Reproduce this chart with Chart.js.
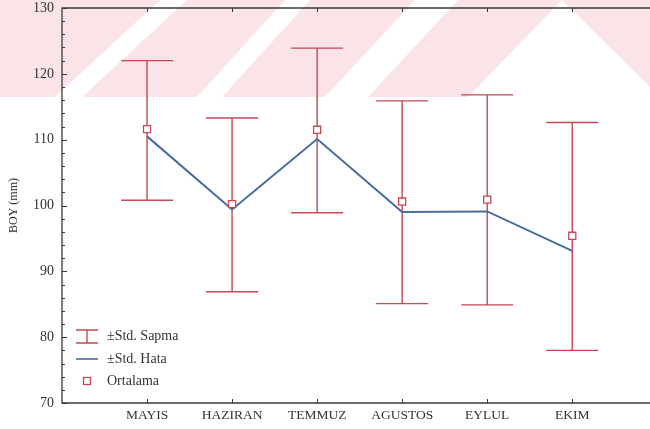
<!DOCTYPE html>
<html>
<head>
<meta charset="utf-8">
<script src="https://cdn.jsdelivr.net/npm/chart.js@4/dist/chart.umd.min.js"></script>
<style>
  html, body { margin: 0; padding: 0; background: #fff; overflow: hidden; }
  #wrap { width: 650px; height: 429px; position: relative; }
</style>
</head>
<body>
<div id="wrap"><canvas id="c" width="650" height="429"></canvas></div>
<script>
// Monthly BOY (mm): mean, std. error line and ±std. deviation whiskers
const months = ['MAYIS', 'HAZIRAN', 'TEMMUZ', 'AGUSTOS', 'EYLUL', 'EKIM'];
const meanValues = [111.6, 100.2, 111.5, 100.6, 100.9, 95.4];
const stdErrLine = [110.5, 99.4, 110.1, 99.0, 99.1, 93.1];
const sdUpper = [122.0, 113.3, 123.9, 115.9, 116.8, 112.6];
const sdLower = [100.8, 86.9, 98.9, 85.1, 84.9, 78.0];
const yTickValues = [70, 80, 90, 100, 110, 120, 130];

const SERIF = '"Liberation Serif", "DejaVu Serif", serif';
const RED = 'rgb(198, 72, 84)';
const BLUE = 'rgb(72, 108, 160)';
const AXIS = '#3a3a3a';
const TEXT = '#333333';

const monthPos = months.map((m, i) => i + 1);

// Background band with diagonal gaps
const backgroundBand = {
  id: 'backgroundBand',
  beforeDraw(chart) {
    const ctx = chart.ctx;
    ctx.save();
    ctx.fillStyle = 'rgb(251, 228, 231)';
    ctx.fillRect(0, 0, 650, 97);
    ctx.fillStyle = '#ffffff';
    const gaps = [
      [[55, 97], [82, 97], [187, 0], [160, 0]],
      [[197, 97], [222, 97], [310, 0], [285, 0]],
      [[325, 97], [368, 97], [458, 0], [415, 0]],
      [[468, 97], [562, 0], [650, 87], [650, 97]]
    ];
    gaps.forEach(poly => {
      ctx.beginPath();
      poly.forEach((p, k) => k ? ctx.lineTo(p[0], p[1]) : ctx.moveTo(p[0], p[1]));
      ctx.closePath();
      ctx.fill();
    });
    ctx.restore();
  }
};

// Whiskers for ±std. deviation
const sdWhiskers = {
  id: 'sdWhiskers',
  beforeDatasetsDraw(chart) {
    const ctx = chart.ctx;
    const xs = chart.scales.x, ys = chart.scales.y;
    const cap = 26;
    ctx.save();
    ctx.strokeStyle = RED;
    ctx.lineWidth = 1.4;
    monthPos.forEach((p, i) => {
      const x = xs.getPixelForValue(p);
      const yt = ys.getPixelForValue(sdUpper[i]);
      const yb = ys.getPixelForValue(sdLower[i]);
      ctx.beginPath();
      ctx.moveTo(x, yt); ctx.lineTo(x, yb);
      ctx.moveTo(x - cap, yt); ctx.lineTo(x + cap, yt);
      ctx.moveTo(x - cap, yb); ctx.lineTo(x + cap, yb);
      ctx.stroke();
    });
    ctx.restore();
  }
};

// Axis lines, inward ticks and the legend box
const frameAndLegend = {
  id: 'frameAndLegend',
  afterDraw(chart) {
    const ctx = chart.ctx;
    const a = chart.chartArea;
    const xs = chart.scales.x, ys = chart.scales.y;
    ctx.save();
    ctx.strokeStyle = AXIS;
    ctx.lineWidth = 1.3;
    ctx.beginPath();
    ctx.moveTo(650, a.top); ctx.lineTo(a.left, a.top);
    ctx.lineTo(a.left, a.bottom); ctx.lineTo(650, a.bottom);
    ctx.stroke();
    ctx.lineWidth = 1;
    ctx.beginPath();
    for (let v = ys.min; v <= ys.max; v += 2) {
      const y = Math.round(ys.getPixelForValue(v)) + 0.5;
      const len = (v % 10 === 0) ? 5 : 3;
      ctx.moveTo(a.left, y); ctx.lineTo(a.left + len, y);
    }
    monthPos.forEach(p => {
      const x = Math.round(xs.getPixelForValue(p)) + 0.5;
      ctx.moveTo(x, a.bottom); ctx.lineTo(x, a.bottom - 4);
      ctx.moveTo(x, a.top); ctx.lineTo(x, a.top + 4);
    });
    ctx.stroke();

    // legend
    const lx = a.left + 14, tx = a.left + 45;
    const r1 = 336.5, r2 = 359, r3 = 381;
    ctx.strokeStyle = RED;
    ctx.lineWidth = 1.4;
    ctx.beginPath();
    ctx.moveTo(lx, r1 - 6.5); ctx.lineTo(lx + 22, r1 - 6.5);
    ctx.moveTo(lx, r1 + 6.5); ctx.lineTo(lx + 22, r1 + 6.5);
    ctx.moveTo(lx + 11, r1 - 6.5); ctx.lineTo(lx + 11, r1 + 6.5);
    ctx.stroke();
    ctx.strokeStyle = BLUE;
    ctx.lineWidth = 1.6;
    ctx.beginPath();
    ctx.moveTo(lx, r2); ctx.lineTo(lx + 22, r2);
    ctx.stroke();
    ctx.strokeStyle = RED;
    ctx.lineWidth = 1.3;
    ctx.fillStyle = '#fff';
    ctx.fillRect(lx + 7.5, r3 - 3.5, 7, 7);
    ctx.strokeRect(lx + 7.5, r3 - 3.5, 7, 7);

    ctx.fillStyle = TEXT;
    ctx.font = '14px ' + SERIF;
    ctx.textBaseline = 'middle';
    ctx.textAlign = 'left';
    ctx.fillText('\u00B1Std. Sapma', tx, r1);
    ctx.fillText('\u00B1Std. Hata', tx, r2);
    ctx.fillText('Ortalama', tx, r3);
    ctx.restore();
  }
};

new Chart(document.getElementById('c'), {
  type: 'line',
  data: {
    datasets: [
      {
        label: 'Ortalama',
        data: monthPos.map((p, i) => ({ x: p, y: meanValues[i] })),
        showLine: false,
        pointStyle: 'rect',
        pointRadius: 5,
        pointBorderWidth: 1.3,
        pointBorderColor: RED,
        pointBackgroundColor: '#ffffff',
        order: 0
      },
      {
        label: '\u00B1Std. Hata',
        data: monthPos.map((p, i) => ({ x: p, y: stdErrLine[i] })),
        borderColor: BLUE,
        borderWidth: 2,
        pointRadius: 0,
        tension: 0,
        fill: false,
        order: 1
      }
    ]
  },
  options: {
    responsive: false,
    devicePixelRatio: 1,
    animation: false,
    layout: { padding: { top: 8, right: 0, left: 0, bottom: 0 } },
    plugins: { legend: { display: false }, tooltip: { enabled: false } },
    scales: {
      x: {
        type: 'linear',
        min: 0,
        max: 6.84,
        afterBuildTicks: s => { s.ticks = monthPos.map(p => ({ value: p })); },
        afterFit: s => { s.height = 26; s.paddingLeft = 0; s.paddingRight = 0; },
        grid: { display: false, drawTicks: false },
        border: { display: false },
        ticks: {
          autoSkip: false,
          maxRotation: 0,
          padding: 4,
          color: TEXT,
          font: { family: SERIF, size: 13.5 },
          callback: v => months[v - 1] || ''
        }
      },
      y: {
        min: 70,
        max: 130,
        afterBuildTicks: s => { s.ticks = yTickValues.map(v => ({ value: v })); },
        afterFit: s => { s.width = 62; s.paddingTop = 0; s.paddingBottom = 0; },
        grid: { display: false, drawTicks: false },
        border: { display: false },
        ticks: {
          padding: 8,
          color: TEXT,
          font: { family: SERIF, size: 14 }
        },
        title: {
          display: true,
          text: 'BOY (mm)',
          color: TEXT,
          padding: { top: 7, bottom: 0 },
          font: { family: SERIF, size: 12 }
        }
      }
    }
  },
  plugins: [backgroundBand, sdWhiskers, frameAndLegend]
});
</script>
</body>
</html>
